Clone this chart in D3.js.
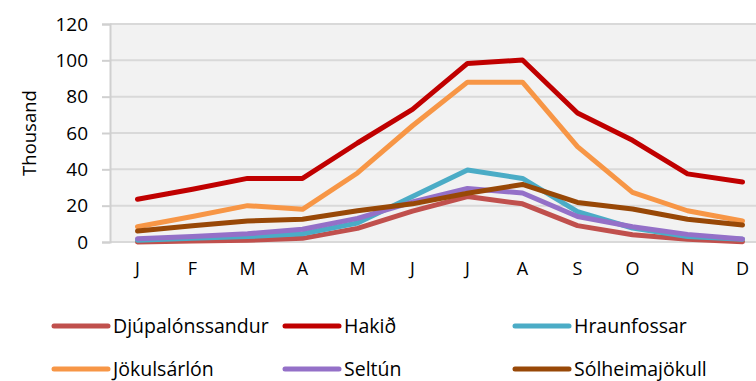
<!DOCTYPE html>
<html>
<head>
<meta charset="utf-8">
<script src="https://cdn.jsdelivr.net/npm/d3@7/dist/d3.min.js"></script>
<style>
  html, body { margin: 0; padding: 0; background: #fff; }
  svg { display: block; }
  text { font-family: "Open Sans", "Noto Sans", sans-serif; fill: #000; }
</style>
</head>
<body>
<svg id="chart" width="756" height="381"></svg>
<script>
// Monthly visitors (thousands) at Icelandic sites
const months = ["J", "F", "M", "A", "M", "J", "J", "A", "S", "O", "N", "D"];
const yTicks = [0, 20, 40, 60, 80, 100, 120];

const djupalonssandur = [0, 0.5, 1, 2, 7.5, 17, 25, 21, 9, 4, 1.5, 0.2];
const hakid          = [23.5, 29, 35, 35, 54.5, 73, 98.3, 100.2, 71, 56, 37.5, 33];
const hraunfossar    = [1, 2, 3, 4.5, 10.5, 25, 39.6, 35, 16.7, 7.7, 3, 1.5];
const jokulsarlon    = [8.4, 14, 20, 18, 38, 64, 88, 88, 52.5, 27.3, 17.2, 11.6];
const seltun         = [1.8, 3, 4.5, 7, 13, 22, 29.5, 27, 14, 8.4, 4.2, 1.7];
const solheimajokull = [6, 9, 11.6, 12.5, 17.2, 21, 26.8, 31.7, 21.8, 18.2, 12.5, 9.4];

const seriesNames  = ["Djúpalónssandur", "Hakið", "Hraunfossar", "Jökulsárlón", "Seltún", "Sólheimajökull"];
const seriesValues = [djupalonssandur, hakid, hraunfossar, jokulsarlon, seltun, solheimajokull];
const seriesColors = ["#c0504d", "#c00000", "#4bacc6", "#f79646", "#9470c8", "#984807"];

const svg = d3.select("#chart");
const plot = { left: 110, right: 770, top: 24, bottom: 242 };

const x = d3.scaleBand().domain(d3.range(months.length)).range([plot.left, plot.right]).padding(0);
const y = d3.scaleLinear().domain([0, 120]).range([plot.bottom, plot.top]);
const cx = i => x(i) + x.bandwidth() / 2;

// plot background
svg.append("rect")
  .attr("x", plot.left).attr("y", plot.top)
  .attr("width", plot.right - plot.left).attr("height", plot.bottom - plot.top)
  .attr("fill", "#f2f2f2");

// horizontal gridlines
svg.append("g").selectAll("line").data(yTicks).join("line")
  .attr("x1", plot.left).attr("x2", plot.right)
  .attr("y1", d => y(d)).attr("y2", d => y(d))
  .attr("stroke", "#d9d9d9").attr("stroke-width", 2);

// left axis
const yAxis = svg.append("g")
  .attr("transform", `translate(${plot.left},0)`)
  .call(d3.axisLeft(y).tickValues(yTicks).tickSize(8).tickPadding(14));
yAxis.select(".domain").attr("stroke", "#d0d0d0").attr("stroke-width", 2);
yAxis.selectAll(".tick line").attr("stroke", "#d0d0d0").attr("stroke-width", 2);
yAxis.selectAll(".tick text").attr("font-size", 19).attr("fill", "#000")
  .style("font-family", "'Open Sans', sans-serif");

// bottom month labels
const xAxis = svg.append("g")
  .attr("transform", `translate(0,${plot.bottom})`)
  .call(d3.axisBottom(x).tickFormat(i => months[i]).tickSize(0).tickPadding(20));
xAxis.select(".domain").remove();
xAxis.selectAll(".tick text").attr("font-size", 18).attr("fill", "#000")
  .style("font-family", "'Open Sans', sans-serif");

// axis title
svg.append("text")
  .attr("transform", "translate(36,133) rotate(-90)")
  .attr("text-anchor", "middle")
  .attr("font-size", 18.5)
  .text("Thousand");

// series lines
const line = d3.line().x((d, i) => cx(i)).y(d => y(d));
seriesValues.forEach((vals, k) => {
  svg.append("path")
    .datum(vals)
    .attr("d", line)
    .attr("fill", "none")
    .attr("stroke", seriesColors[k])
    .attr("stroke-width", 5)
    .attr("stroke-linejoin", "round")
    .attr("stroke-linecap", "round");
});

// legend
const legendCols = [54, 285, 515];
const legendRows = [326, 369];
seriesNames.forEach((name, k) => {
  const lx = legendCols[k % 3], ly = legendRows[Math.floor(k / 3)];
  svg.append("line")
    .attr("x1", lx).attr("x2", lx + 54)
    .attr("y1", ly).attr("y2", ly)
    .attr("stroke", seriesColors[k]).attr("stroke-width", 5)
    .attr("stroke-linecap", "round");
  svg.append("text")
    .attr("x", lx + 59).attr("y", ly)
    .attr("dy", "0.35em")
    .attr("font-size", 19.5)
    .text(name);
});
</script>
</body>
</html>
